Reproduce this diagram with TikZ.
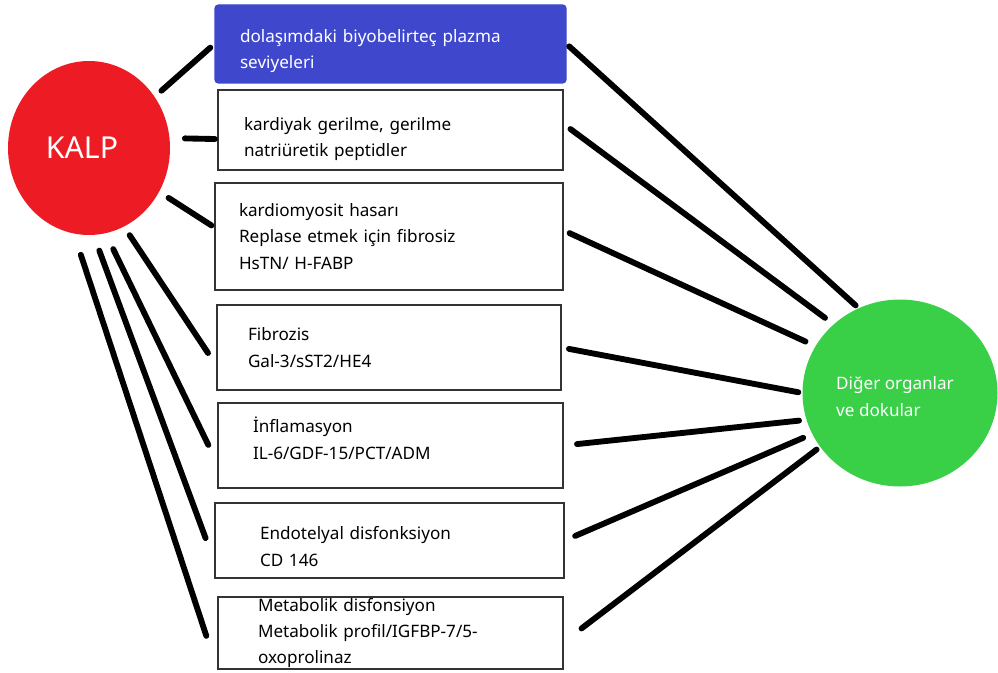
\documentclass[tikz,border=0pt]{standalone}
\usepackage{fontspec}
\setmainfont{Noto Sans}
\usetikzlibrary{shapes.geometric}

\definecolor{kalpred}{RGB}{237,28,36}
\definecolor{kutublue}{RGB}{63,72,204}
\definecolor{organgreen}{RGB}{57,208,72}

\tikzset{
  lnk/.style={line width=5pt, line cap=round},
  kutu/.style={draw=black!80, line width=1pt, inner xsep=0pt, inner ysep=0pt,
    align=left, font=\fontsize{14.6}{22.6}\selectfont},
  organ/.style={ellipse, inner sep=0pt, text=white, align=left}
}

\begin{document}
\begin{tikzpicture}[x=0.3mm, y=-0.3mm]
  \useasboundingbox (0,0) rectangle (998,673);

  % the two organs
  \node[organ, fill=kalpred, minimum width=48.6mm, minimum height=52.2mm,
    font=\fontsize{25.8}{30}\selectfont] (kalp) at (89,148) {KALP\hspace*{4.2mm}};
  \node[organ, fill=organgreen, minimum width=58.5mm, minimum height=56.1mm,
    font=\fontsize{14.6}{23}\selectfont] (diger) at (900,393)
    {\rule{0pt}{17pt}Diğer organlar\hspace*{3mm}\\ve dokular};

  % marker boxes
  \node[kutu, fill=kutublue, draw=kutublue, rounded corners=1mm, text=white,
    minimum width=105.3mm, minimum height=23.4mm, text width=90.3mm] (b1) at (390.5,44)
    {\rule{0pt}{23pt}dolaşımdaki biyobelirteç plazma\\seviyeleri};
  \node[kutu, minimum width=103.5mm, minimum height=24mm, text width=87.9mm] (b2) at (390.5,130)
    {\rule{0pt}{26.5pt}kardiyak gerilme, gerilme\\natriüretik peptidler};
  \node[kutu, minimum width=104.4mm, minimum height=32.1mm, text width=90mm] (b3) at (389,236.5)
    {kardiomyosit hasarı\\Replase etmek için fibrosiz\\HsTN/ H-FABP};
  \node[kutu, minimum width=103.2mm, minimum height=25.5mm, text width=84.6mm] (b4) at (389,347.5)
    {Fibrozis\\Gal-3/sST2/HE4};
  \node[kutu, minimum width=103.5mm, minimum height=25.5mm, text width=82.5mm] (b5) at (390.5,445.5)
    {İnflamasyon\\IL-6/GDF-15/PCT/ADM\rule[-12.8pt]{0pt}{12.8pt}};
  \node[kutu, minimum width=104.7mm, minimum height=22.5mm, text width=77.7mm] (b6) at (389.5,540.5)
    {\rule{0pt}{21.3pt}Endotelyal disfonksiyon\\CD 146};
  \node[kutu, minimum width=103.5mm, minimum height=21.6mm, text width=79.5mm] (b7) at (390.5,633)
    {Metabolik disfonsiyon\\Metabolik profil/IGFBP-7/5-\\oxoprolinaz};

  % heart to boxes
  \draw[lnk, shorten <=2.7mm, shorten >=1.65mm] (kalp.38.4) -- (b1.west);
  \draw[lnk, shorten <=4.55mm, shorten >=0.75mm] (kalp.7.6) -- (b2.183);
  \draw[lnk, shorten <=3.35mm, shorten >=1.05mm] (kalp.-32.5) -- (b3.177);
  \draw[lnk, shorten <=3.05mm, shorten >=4.55mm] (kalp.-66.1) -- (b4.186.6);
  \draw[lnk, shorten <=5.25mm, shorten >=6.25mm] (kalp.-79.8) -- (b5.186.5);
  \draw[lnk, shorten <=4.95mm, shorten >=7.65mm] (kalp.-87.3) -- (b6.187.2);
  \draw[lnk, shorten <=6.65mm, shorten >=10.65mm] (kalp.-100) -- (b7.south west);

  % boxes to other organs
  \draw[lnk, shorten <=1.05mm, shorten >=1.2mm] (b1.east) -- (diger.116.5);
  \draw[lnk, shorten <=2.55mm, shorten >=3.2mm] (b2.2) -- (diger.134.3);
  \draw[lnk, shorten <=1.95mm, shorten >=3.25mm] (b3.2) -- (diger.151.1);
  \draw[lnk, shorten <=2.25mm, shorten >=1.2mm] (b4.east) -- (diger.180.8);
  \draw[lnk, shorten <=4.05mm, shorten >=2.2mm] (b5.east) -- (diger.196.5);
  \draw[lnk, shorten <=3.45mm, shorten >=2.9mm] (b6.east) -- (diger.205.2);
  \draw[lnk, shorten <=6.75mm, shorten >=1.3mm] (b7.-3) -- (diger.214.9);
\end{tikzpicture}
\end{document}
